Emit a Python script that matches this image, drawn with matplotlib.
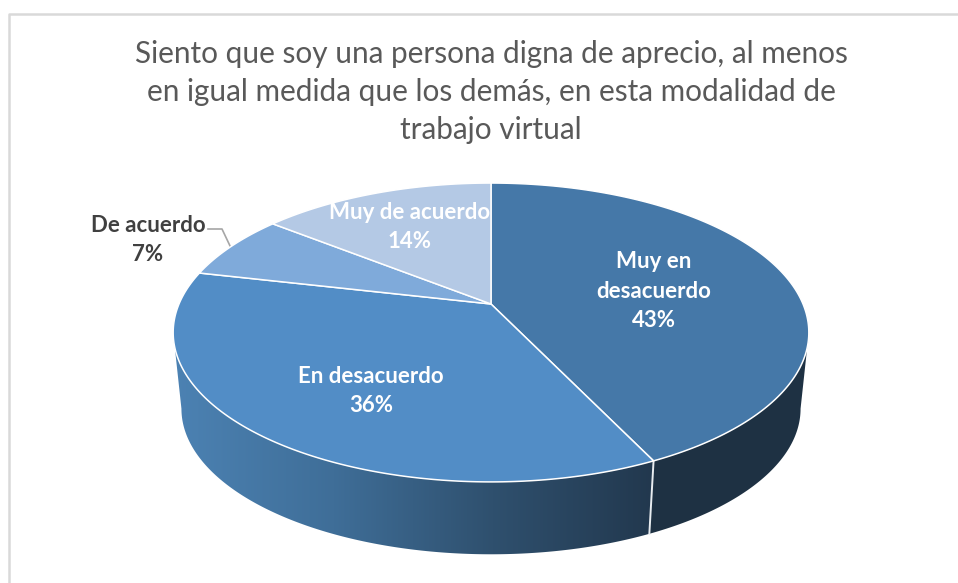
"""Pie 3D: aprecio en modalidad de trabajo virtual, saved to out.png."""

from __future__ import annotations

import matplotlib
matplotlib.use("Agg")
import matplotlib.pyplot as plt
import numpy as np
from matplotlib.patches import Polygon


title = (
    "Siento que soy una persona digna de aprecio, al menos\n"
    "en igual medida que los demás, en esta modalidad de\n"
    "trabajo virtual"
)
label_lines = ["Muy en\ndesacuerdo", "En desacuerdo", "De acuerdo", "Muy de acuerdo"]
shares = [42.9, 35.7, 7.1, 14.3]
top_colors = ["#4578A8", "#528DC6", "#7FAADA", "#B4C9E5"]
label_colors = ["white", "white", "#404040", "white"]
label_pos = [(654, 291), (371, 391), (148, 240), (410, 227)]

# perspective of the disc, in pixels
APEX = (491.0, 304.0)
RX, RY, K = 312.0, 144.0, 0.1906
BOTTOM_Y, BOTTOM_SCALE = 381.0, 0.974


def project(theta: np.ndarray, bottom: bool = False) -> np.ndarray:
    """theta in degrees, clockwise from the top of the disc."""
    t = np.radians(theta)
    u, v = np.sin(t), -np.cos(t)
    d = 1 - K * v
    x, y = RX * u / d, RY * v / d
    if bottom:
        return np.column_stack([APEX[0] + BOTTOM_SCALE * x, BOTTOM_Y + BOTTOM_SCALE * y])
    return np.column_stack([APEX[0] + x, APEX[1] + y])


def side_poly(a: float, b: float) -> np.ndarray:
    th = np.linspace(a, b, 200)
    return np.vstack([project(th), project(th[::-1], bottom=True)])


def main() -> None:
    plt.rcParams["font.family"] = ["Lato", "DejaVu Sans"]
    fig = plt.figure(figsize=(9.58, 5.83), dpi=100)
    ax = fig.add_axes([0, 0, 1, 1])
    ax.set_xlim(0, 958)
    ax.set_ylim(583, 0)
    ax.axis("off")

    # chart frame, cut off by the screenshot on the right and at the bottom
    ax.plot([9.5, 9.5, 958], [583, 13.5, 13.5], color="#D9D9D9", lw=1.8)

    ang = np.concatenate([[0], np.cumsum(shares)]) * 3.6
    horizon = np.degrees(np.arccos(-K))

    # front wall, right part is flat dark, left part has a gradient
    right = Polygon(side_poly(horizon, ang[1]), fc="#1E3143", ec="none", zorder=2)
    ax.add_patch(right)
    left = Polygon(side_poly(ang[1], 360 - horizon), fc="none", ec="none", zorder=2)
    ax.add_patch(left)
    grad = np.linspace(0, 1, 256)[None, :]
    cmap = matplotlib.colors.LinearSegmentedColormap.from_list(
        "side", ["#4C82B3", "#3F6E98", "#2F506E", "#22384E"]
    )
    im = ax.imshow(grad, extent=(173, 654, 583, 0), cmap=cmap, aspect="auto", zorder=2)
    im.set_clip_path(left)
    ax.set_xlim(0, 958)
    ax.set_ylim(583, 0)

    # white seam on the wall
    seam = np.vstack([project(np.array([ang[1]])), project(np.array([ang[1]]), bottom=True)])
    ax.plot(seam[:, 0], seam[:, 1], color="#E8ECF0", lw=1.4, zorder=3)

    # top of the disc
    for a, b, c in zip(ang[:-1], ang[1:], top_colors):
        arc = project(np.linspace(a, b, 200))
        ax.add_patch(Polygon(np.vstack([APEX, arc]), fc=c, ec="white", lw=1.1, zorder=4))

    # data labels
    for name, share, color, (x, y) in zip(label_lines, shares, label_colors, label_pos):
        ax.text(x, y, f"{name}\n{share:.0f}%", color=color, fontsize=16, fontweight="bold",
                ha="center", va="center", linespacing=1.5, zorder=5)
    ax.plot([208, 222, 231], [229, 229, 248], color="#A6A6A6", lw=1.2, zorder=3)

    ax.text(491, 92, title, color="#595959", fontsize=21.4, ha="center", va="center",
            linespacing=1.45, zorder=5)

    fig.savefig("out.png", dpi=100)


if __name__ == "__main__":
    main()
